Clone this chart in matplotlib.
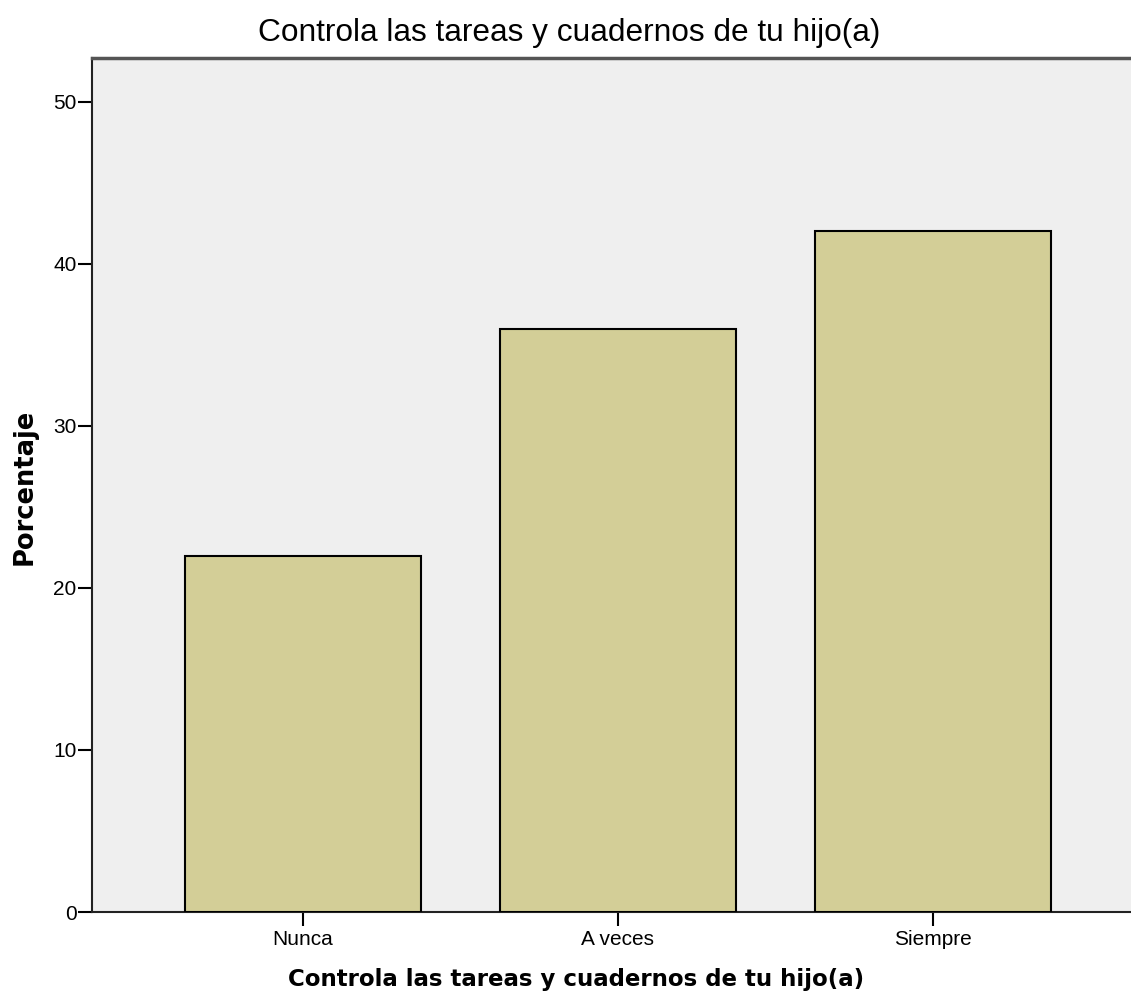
import matplotlib
import matplotlib.pyplot as plt

matplotlib.use("Agg")

categorias = ["Nunca", "A veces", "Siempre"]
porcentajes = [22.0, 36.0, 42.0]
yticks = [0, 10, 20, 30, 40, 50]
titulo = "Controla las tareas y cuadernos de tu hijo(a)"

fig = plt.figure(figsize=(11.31, 10.06), dpi=100)
ax = fig.add_axes([0.0813, 0.0934, 0.9187, 0.8489])
ax.set_facecolor("#efefef")

x = range(len(categorias))
ax.bar(x, porcentajes, width=0.75, color="#d3ce97", edgecolor="black", linewidth=1.5, zorder=3)

ax.set_xlim(-0.67, 2.63)
ax.set_ylim(0, 52.7)
ax.set_xticks(list(x))
ax.set_xticklabels(categorias, fontsize=15, family=["Liberation Sans Narrow", "Liberation Sans"])
ax.set_yticks(yticks)
ax.set_yticklabels([str(t) for t in yticks], fontsize=15, family=["Liberation Sans Narrow", "Liberation Sans"])
ax.tick_params(axis="both", direction="out", length=10, width=1.5, color="black")
ax.tick_params(axis="x", pad=3)
ax.tick_params(axis="y", pad=1)

for lado in ["left", "bottom"]:
    ax.spines[lado].set_linewidth(1.5)
    ax.spines[lado].set_color("#222222")
ax.spines["top"].set_linewidth(2.5)
ax.spines["top"].set_color("#555555")
ax.spines["right"].set_visible(False)

fig.text(569 / 1131, 1 - 33 / 1006, titulo, fontsize=22.8, family="Liberation Sans",
         ha="center", va="center")
ax.set_xlabel(titulo, fontsize=16.5, fontweight="bold", family="DejaVu Sans")
ax.xaxis.set_label_coords(0.466, -0.066)
ax.set_ylabel("Porcentaje", fontsize=18.5, fontweight="bold", family="DejaVu Sans")
ax.yaxis.set_label_coords(-0.052, 0.498)

fig.savefig("out.png", dpi=100)
